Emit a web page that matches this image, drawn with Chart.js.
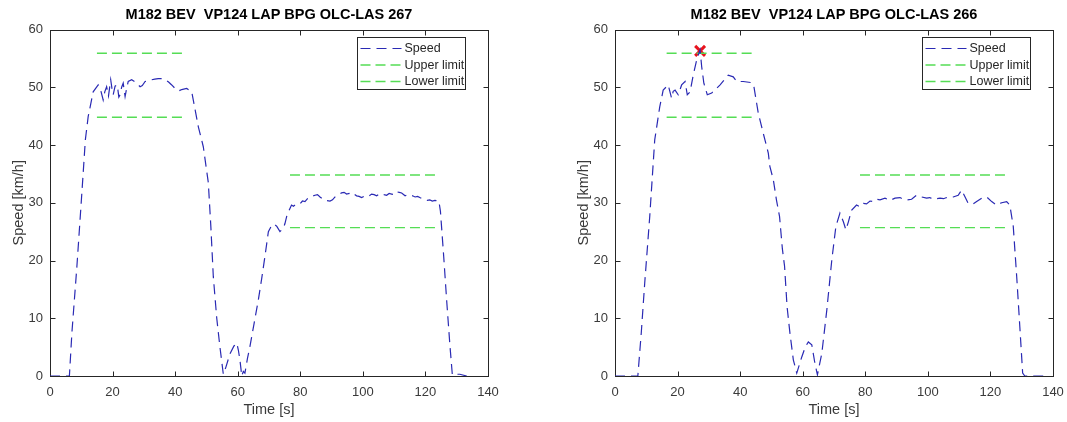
<!DOCTYPE html>
<html>
<head>
<meta charset="utf-8">
<script src="https://cdn.jsdelivr.net/npm/chart.js@4.4.1/dist/chart.umd.min.js"></script>
<style>
html, body { margin: 0; padding: 0; background: #fff; overflow: hidden; }
#grafico1 { position: absolute; left: 0; top: 0; }
#grafico2 { position: absolute; left: 533px; top: 0; }
</style>
</head>
<body>
<canvas id="grafico1" width="533" height="422"></canvas>
<canvas id="grafico2" width="534" height="422"></canvas>
<script>
const xTicks = [0, 20, 40, 60, 80, 100, 120, 140]
const yTicks = [0, 10, 20, 30, 40, 50, 60]

// vuelta 267
const titulo267 = 'M182 BEV  VP124 LAP BPG OLC-LAS 267'
const tiempo267 = [0, 6.2, 7, 8.6, 9.9, 10.6, 11.3, 12.2, 13.8, 15.4, 16.2, 17, 17.5, 18.1, 18.7, 19.4, 19.8, 20.2, 20.8, 21.5, 22, 22.4, 22.9, 23.4, 24, 24.5, 25, 26.1, 27, 27.7, 28.8, 29.5, 30.4, 31.5, 32.5, 33.5, 34.6, 35.7, 36.8, 37.9, 38.9, 40.5, 41.3, 42.1, 43.7, 45.3, 46, 47.4, 49, 50.6, 51.4, 52.2, 53.3, 54.3, 55.4, 56.2, 57.5, 58.8, 59.7, 60.2, 60.7, 61.3, 61.8, 62.3, 63.1, 63.9, 65.2, 66.6, 67.7, 68.7, 69.8, 70.9, 71.7, 72.5, 73.5, 74.6, 75.1, 75.9, 76.2, 77.2, 77.8, 78.8, 79.9, 80.7, 81.5, 82.3, 83.1, 84.7, 85.5, 86.3, 87.9, 89.5, 90.3, 91.1, 92.2, 93.2, 94, 94.8, 95.6, 96.4, 97.2, 98, 98.8, 99.6, 100.4, 101.2, 102, 102.8, 103.6, 104.4, 105.2, 106, 106.8, 107.6, 108.4, 109.2, 110, 110.8, 111.6, 112.4, 113.5, 114.3, 115.1, 115.9, 116.7, 117.5, 118.2, 119, 119.8, 120.6, 121.4, 122.2, 123, 124.3, 124.8, 125.8, 126.8, 127.8, 128.6, 129.5, 131, 133.2]
const velocidad267 = [0, 0, 7.5, 19, 29.4, 35.1, 40.9, 44.9, 49.2, 50.4, 49.5, 47.8, 49.2, 50.1, 48.5, 51.3, 49.8, 48.7, 50.2, 50.4, 48.3, 48.7, 50, 50.7, 48.4, 49.8, 51, 51.3, 51, 50.7, 50.1, 50.3, 51, 51.1, 51.3, 51.4, 51.5, 51.5, 51.3, 50.9, 50.4, 49.5, 49.4, 49.6, 49.8, 49.2, 47.2, 43.2, 39.7, 33.5, 26, 17.2, 10, 5.1, 0.3, 1.5, 3.8, 5.2, 5.7, 4.5, 2.8, 0, 0.8, 0.5, 3, 5.1, 9, 13.2, 17, 20.7, 25, 26.1, 26.3, 25.9, 25, 25.6, 26.4, 28.2, 28.4, 29.6, 29.4, 29.8, 29.8, 30.3, 30.2, 30.7, 31, 31.3, 31.4, 31, 30.4, 30.3, 30.5, 31, 31.4, 31.7, 31.8, 31.5, 31.6, 31.3, 31.5, 31.2, 31.1, 30.9, 31.1, 31.3, 31.2, 31.5, 31.4, 31.2, 31.5, 31.6, 31.4, 31.3, 31.6, 31.5, 31.4, 31.9, 31.8, 31.7, 31.2, 31.4, 31.3, 31.2, 31, 31.1, 30.9, 30.7, 30.6, 30.4, 30.5, 30.3, 30.4, 30.3, 28.5, 21, 13, 5.5, 0.2, 0.3, 0.3, 0]
const inicioTramo267 = [15, 76.7]
const finTramo267 = [42.6, 123.6]
const superior267 = [55.9, 34.8]
const inferior267 = [44.8, 25.7]

// vuelta 266
const titulo266 = 'M182 BEV  VP124 LAP BPG OLC-LAS 266'
const tiempo266 = [0, 7.3, 8.4, 9.5, 11.1, 12.7, 14.3, 15.4, 17, 18.1, 18.6, 19.2, 20.2, 21.3, 22.4, 23.1, 24, 25, 26.1, 27.2, 27.7, 28.4, 29.5, 30.9, 33.6, 36.2, 37.8, 38.9, 41, 43.7, 44.4, 45.8, 47.4, 49, 49.5, 50.6, 51.6, 52.6, 53.5, 54.2, 55, 55.9, 57, 58.1, 59.7, 60.8, 61.8, 62.9, 63.9, 64.7, 66.1, 67.7, 69.3, 70.6, 71.9, 73, 73.8, 74.6, 75.6, 77.2, 78.3, 79.4, 80.4, 81.5, 82.6, 83.6, 84.7, 86.3, 87.9, 89.5, 91.1, 92.1, 93.4, 94.8, 96.4, 98, 99.6, 100.6, 101.7, 103.9, 105, 106, 108.1, 109.7, 110.8, 111.9, 112.9, 114.5, 115.6, 117.2, 118.8, 120.4, 122, 123.6, 125.2, 126.2, 127.3, 128.4, 129.4, 130.3, 131, 137]
const velocidad266 = [0, 0, 7.5, 16.1, 27.6, 40.9, 46.6, 49.5, 50.4, 48.1, 49.3, 49.5, 48.7, 50.4, 51, 48.7, 49.2, 52.1, 54.7, 56.5, 53.6, 50.7, 48.7, 49, 50.4, 52.1, 51.8, 51, 51, 50.8, 50.1, 45.5, 42, 38.6, 36.3, 34, 30.5, 27.6, 22, 19, 12, 7.5, 2.8, 0.5, 3.3, 5, 5.9, 5.4, 2.2, 0.2, 3.9, 11.4, 20.1, 25.9, 28.2, 26.7, 25.3, 26.7, 28.7, 29.6, 29.3, 29.9, 29.8, 30.3, 30.2, 30.6, 30.5, 30.8, 30.4, 30.8, 30.9, 30.6, 30.5, 30.6, 31.3, 31, 30.8, 30.9, 30.6, 30.8, 30.7, 30.9, 31, 31.3, 32.2, 31, 29.9, 29.8, 30.2, 30.8, 31, 30.2, 29.6, 30, 30.2, 29.6, 25.9, 17.2, 8.5, 0.5, 0, 0]
const inicioTramo266 = [16.5, 78.3]
const finTramo266 = [43.7, 126.2]
const superior266 = [55.9, 34.8]
const inferior266 = [44.8, 25.7]
const excesoTiempo266 = [27.2]
const excesoVelocidad266 = [56.3]

const fuente = 'Liberation Sans, Arial, sans-serif'
const gris = '#3a3a3a'

function puntos(xs, ys) {
  return xs.map((x, i) => ({ x: x, y: ys[i] }))
}

function tramos(inicio, fin, valores) {
  const lista = []
  inicio.forEach((x0, i) => {
    lista.push({ x: x0, y: valores[i] })
    lista.push({ x: fin[i], y: valores[i] })
    if (i < inicio.length - 1) lista.push({ x: (fin[i] + inicio[i + 1]) / 2, y: null })
  })
  return lista
}

// caja con marcas hacia dentro, estilo matlab
const cajaMatlab = {
  id: 'cajaMatlab',
  beforeDatasetsDraw(chart) {
    const { ctx, chartArea: a, scales } = chart
    const l = Math.round(a.left) + 0.5, r = Math.round(a.right) + 0.5
    const t = Math.round(a.top) + 0.5, b = Math.round(a.bottom) + 0.5
    ctx.save()
    ctx.strokeStyle = '#262626'
    ctx.lineWidth = 1
    ctx.strokeRect(l, t, r - l, b - t)
    ctx.beginPath()
    scales.x.ticks.forEach(tk => {
      const px = Math.round(scales.x.getPixelForValue(tk.value)) + 0.5
      ctx.moveTo(px, b); ctx.lineTo(px, b - 5)
      ctx.moveTo(px, t); ctx.lineTo(px, t + 5)
    })
    scales.y.ticks.forEach(tk => {
      const py = Math.round(scales.y.getPixelForValue(tk.value)) + 0.5
      ctx.moveTo(l, py); ctx.lineTo(l + 5, py)
      ctx.moveTo(r, py); ctx.lineTo(r - 5, py)
    })
    ctx.stroke()
    ctx.restore()
  },
  afterDraw(chart, args, opts) {
    const { ctx, chartArea: a } = chart
    ctx.save()
    // titulo
    ctx.fillStyle = '#000'
    ctx.font = 'bold 14.5px ' + fuente
    ctx.textAlign = 'center'
    ctx.textBaseline = 'middle'
    ctx.fillText(opts.titulo, (a.left + a.right) / 2, 15)
    // leyenda dentro del area
    const series = chart.data.datasets.filter(d => d.enLeyenda)
    const w = 108, h = 52
    const x0 = Math.round(a.right - 23 - w) + 0.5
    const y0 = Math.round(a.top + 7) + 0.5
    ctx.fillStyle = '#fff'
    ctx.fillRect(x0, y0, w, h)
    ctx.strokeStyle = '#262626'
    ctx.lineWidth = 1
    ctx.strokeRect(x0, y0, w, h)
    ctx.font = '12.5px ' + fuente
    ctx.textAlign = 'left'
    series.forEach((d, i) => {
      const yy = y0 + 11 + i * 16.5
      ctx.strokeStyle = d.borderColor
      ctx.lineWidth = d.borderWidth
      ctx.setLineDash(d.borderDash)
      ctx.beginPath()
      ctx.moveTo(x0 + 3, yy)
      ctx.lineTo(x0 + 44, yy)
      ctx.stroke()
      ctx.setLineDash([])
      ctx.fillStyle = '#262626'
      ctx.fillText(d.label, x0 + 47, yy + 0.5)
    })
    ctx.restore()
  }
}

function crearGrafico(id, titulo, datasets, padIzq, padDer) {
  const ctx = document.getElementById(id).getContext('2d')
  return new Chart(ctx, {
    type: 'scatter',
    data: { datasets: datasets },
    options: {
      responsive: false,
      animation: false,
      layout: { padding: { left: padIzq, right: padDer, top: 29.5, bottom: 0 } },
      plugins: {
        legend: { display: false },
        tooltip: { enabled: false },
        cajaMatlab: { titulo: titulo }
      },
      scales: {
        x: {
          type: 'linear', min: 0, max: 140,
          afterBuildTicks: s => { s.ticks = xTicks.map(v => ({ value: v })) },
          afterFit: s => { s.height = 46; s.paddingLeft = 0; s.paddingRight = 0 },
          grid: { display: false, drawTicks: false },
          border: { display: false },
          ticks: { color: gris, font: { family: fuente, size: 13 }, padding: 9, maxRotation: 0, autoSkip: false },
          title: { display: true, text: 'Time [s]', color: gris, font: { family: fuente, size: 14.5 }, padding: { top: 0, bottom: 3 } }
        },
        y: {
          type: 'linear', min: 0, max: 60,
          afterBuildTicks: s => { s.ticks = yTicks.map(v => ({ value: v })) },
          afterFit: s => { s.width = 43; s.paddingTop = 0; s.paddingBottom = 0 },
          grid: { display: false, drawTicks: false },
          border: { display: false },
          ticks: { color: gris, font: { family: fuente, size: 13 }, padding: 7, autoSkip: false },
          title: { display: true, text: 'Speed [km/h]', color: gris, font: { family: fuente, size: 14.5 }, padding: { top: 3, bottom: 0 } }
        }
      }
    },
    plugins: [cajaMatlab]
  })
}

function series(tiempo, velocidad, inicio, fin, sup, inf) {
  return [
    { label: 'Speed', enLeyenda: true, data: puntos(tiempo, velocidad), showLine: true, pointRadius: 0,
      borderColor: '#2a2ab4', borderWidth: 1.2, borderDash: [10, 6], spanGaps: false },
    { label: 'Upper limit', enLeyenda: true, data: tramos(inicio, fin, sup), showLine: true, pointRadius: 0,
      borderColor: '#55dd55', borderWidth: 1.4, borderDash: [10, 5], spanGaps: false },
    { label: 'Lower limit', enLeyenda: true, data: tramos(inicio, fin, inf), showLine: true, pointRadius: 0,
      borderColor: '#55dd55', borderWidth: 1.4, borderDash: [10, 5], spanGaps: false }
  ]
}

const datos267 = series(tiempo267, velocidad267, inicioTramo267, finTramo267, superior267, inferior267)
const datos266 = series(tiempo266, velocidad266, inicioTramo266, finTramo266, superior266, inferior266)
datos266.push({
  label: 'Exceso', data: puntos(excesoTiempo266, excesoVelocidad266), showLine: false,
  pointStyle: 'crossRot', pointRadius: 7, borderColor: '#e8141e', borderWidth: 3
})

const myChart = crearGrafico('grafico1', titulo267, datos267, 7, 45)
const myChart2 = crearGrafico('grafico2', titulo266, datos266, 39, 14)
</script>
</body>
</html>
